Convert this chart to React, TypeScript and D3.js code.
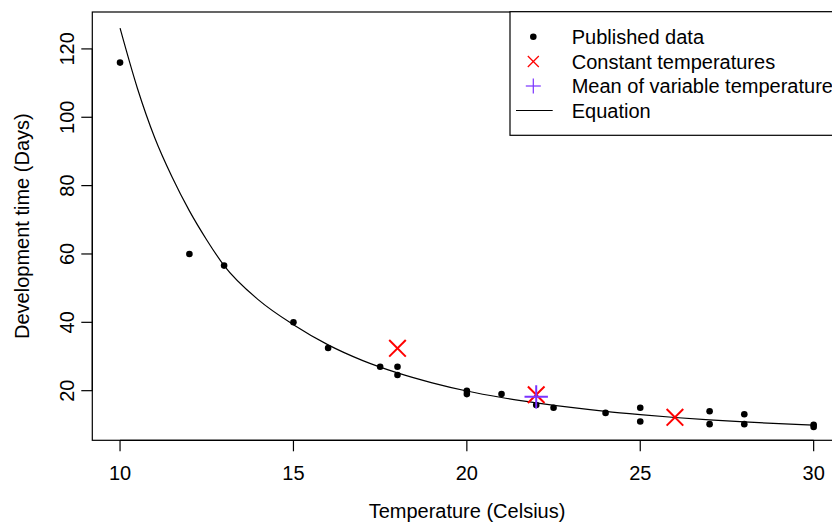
import React from 'react';
import * as d3 from 'd3';

const pubTemp = [10, 12, 13, 15, 16, 17.5, 18, 18, 20, 20, 21, 22, 22.5, 24, 25, 25, 27, 27, 28, 28, 30, 30];
const pubDays = [116, 60, 56.6, 40, 32.5, 27, 27, 24.6, 20, 19, 19, 15.8, 15, 13.5, 15, 11, 14, 10.2, 13.1, 10.2, 10, 9.4];
const constTemp = [18, 22, 26];
const constDays = [32.4, 18.8, 12.2];
const meanTemp = [22];
const meanDays = [18.2];
const eqTemp = [10, 10.5, 11, 11.5, 12, 12.5, 13, 14, 15, 16, 17, 18, 19, 20, 21, 22, 23, 24, 25, 26, 27, 28, 29, 30];
const eqDays = [126.1, 108.5, 94, 82.5, 72.6, 64.1, 56.6, 46.5, 39.3, 33.4, 28.8, 25.2, 22.3, 19.9, 18.0, 16.45, 15.1, 13.95, 13.0, 12.15, 11.45, 10.85, 10.35, 9.9];
const xTicks = [10, 15, 20, 25, 30];
const yTicks = [20, 40, 60, 80, 100, 120];
const legendLabels = ['Published data', 'Constant temperatures', 'Mean of variable temperatures', 'Equation'];

const W = 832;
const H = 525;
const L = 92.3, T = 12, R = 841.4, B = 440.3;
const FONT = 'Liberation Sans, Arial, Helvetica, sans-serif';
const FS = 20;
const PURPLE = '#7A33FF';

export default function App() {
  const x = d3.scaleLinear().domain([9.2, 30.8]).range([L, R]);
  const y = d3.scaleLinear().domain([5.48, 130.8]).range([B, T]);
  const line = d3.line<number>()
    .x((_, i) => x(eqTemp[i]))
    .y((d) => y(d))
    .curve(d3.curveMonotoneX);

  const cross = (cx: number, cy: number, h: number, color: string, sw: number, key: string) => (
    <g key={key} stroke={color} strokeWidth={sw}>
      <line x1={cx - h} y1={cy - h} x2={cx + h} y2={cy + h} />
      <line x1={cx - h} y1={cy + h} x2={cx + h} y2={cy - h} />
    </g>
  );
  const plus = (cx: number, cy: number, h: number, color: string, sw: number, key: string) => (
    <g key={key} stroke={color} strokeWidth={sw}>
      <line x1={cx - h} y1={cy} x2={cx + h} y2={cy} />
      <line x1={cx} y1={cy - h} x2={cx} y2={cy + h} />
    </g>
  );

  const legX = 510, legTop = 11.7, legBottom = 135.3;
  const rowY = [36.7, 61.5, 86, 110.5];
  const symX = 533.3;
  const textX = 571.7;

  return (
    <svg width={W} height={H} style={{ position: 'absolute', left: 0, top: 0, background: '#fff' }} fontFamily={FONT}>
      <rect x={0} y={0} width={W} height={H} fill="#fff" />
      <defs>
        <clipPath id="plotclip">
          <rect x={L} y={T} width={R - L} height={B - T} />
        </clipPath>
      </defs>
      <rect x={L} y={T} width={R - L} height={B - T} fill="none" stroke="#000" strokeWidth={1.2} />
      <g>
        <line x1={x(xTicks[0])} x2={x(xTicks[xTicks.length - 1])} y1={B} y2={B} stroke="#000" strokeWidth={1.2} />
        {xTicks.map((t) => (
          <g key={'xt' + t}>
            <line x1={x(t)} x2={x(t)} y1={B} y2={B + 11} stroke="#000" strokeWidth={1.2} />
            <text x={x(t)} y={473} textAnchor="middle" dominantBaseline="central" fontSize={FS}>{t}</text>
          </g>
        ))}
        <text x={467} y={511} textAnchor="middle" dominantBaseline="central" fontSize={FS}>Temperature (Celsius)</text>
      </g>
      <g>
        <line x1={L} x2={L} y1={y(yTicks[0])} y2={y(yTicks[yTicks.length - 1])} stroke="#000" strokeWidth={1.2} />
        {yTicks.map((t) => (
          <g key={'yt' + t}>
            <line x1={L - 11} x2={L} y1={y(t)} y2={y(t)} stroke="#000" strokeWidth={1.2} />
            <text transform={`translate(67,${y(t)}) rotate(-90)`} textAnchor="middle" dominantBaseline="central" fontSize={FS}>{t}</text>
          </g>
        ))}
        <text transform={`translate(22,${(T + B) / 2}) rotate(-90)`} textAnchor="middle" dominantBaseline="central" fontSize={FS}>Development time (Days)</text>
      </g>
      <g clipPath="url(#plotclip)">
        <path d={line(eqDays) || ''} fill="none" stroke="#000" strokeWidth={1.2} />
        {pubTemp.map((t, i) => (
          <circle key={'p' + i} cx={x(t)} cy={y(pubDays[i])} r={3.3} fill="#000" />
        ))}
        {constTemp.map((t, i) => cross(x(t), y(constDays[i]), 8.3, '#FF0000', 2, 'c' + i))}
        {meanTemp.map((t, i) => plus(x(t), y(meanDays[i]), 11.7, PURPLE, 2, 'm' + i))}
      </g>
      <g>
        <rect x={legX} y={legTop} width={400} height={legBottom - legTop} fill="#fff" stroke="#000" strokeWidth={1.2} />
        <circle cx={symX} cy={rowY[0]} r={3.3} fill="#000" />
        {cross(symX, rowY[1], 5.5, '#FF0000', 1.2, 'lc')}
        {plus(symX, rowY[2], 7.5, PURPLE, 1.2, 'lp')}
        <line x1={516} x2={552.7} y1={rowY[3]} y2={rowY[3]} stroke="#000" strokeWidth={1.2} />
        {legendLabels.map((lab, i) => (
          <text key={'lt' + i} x={textX} y={rowY[i]} dominantBaseline="central" fontSize={FS}>{lab}</text>
        ))}
      </g>
    </svg>
  );
}
